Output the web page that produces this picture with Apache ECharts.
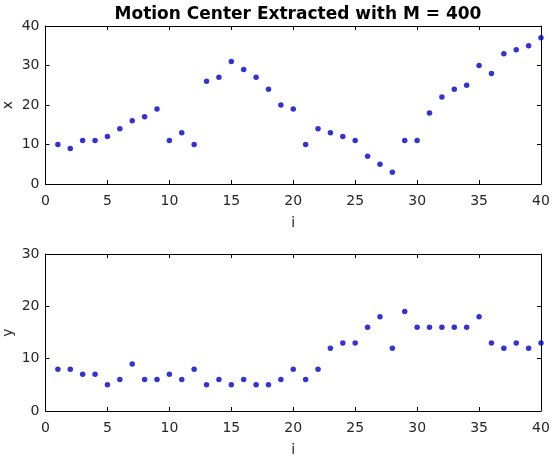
<!DOCTYPE html>
<html>
<head>
<meta charset="utf-8">
<script src="https://cdn.jsdelivr.net/npm/echarts@6/dist/echarts.min.js"></script>
<style>
  html, body { margin: 0; padding: 0; background: #fff; }
  #chart { width: 556px; height: 456px; }
</style>
</head>
<body>
<div id="chart"></div>
<script>
// frame index i = 1..40
var frames = [];
for (var k = 1; k <= 40; k++) frames.push(k);

// motion center coordinates
var xValues = [10, 9, 11, 11, 12, 14, 16, 17, 19, 11,
               13, 10, 26, 27, 31, 29, 27, 24, 20, 19,
               10, 14, 13, 12, 11, 7, 5, 3, 11, 11,
               18, 22, 24, 25, 30, 28, 33, 34, 35, 37];
var yValues = [8, 8, 7, 7, 5, 6, 9, 6, 6, 7,
               6, 8, 5, 6, 5, 6, 5, 5, 6, 8,
               6, 8, 12, 13, 13, 16, 18, 12, 19, 16,
               16, 16, 16, 16, 18, 13, 12, 13, 12, 13];

var titleText = "Motion Center Extracted with M = 400";

var textColor = "#262626";
var dotColor = "#0000c8";
var fontName = "DejaVu Sans";

function pairs(values) {
    var out = [];
    for (var j = 0; j < frames.length; j++) out.push([frames[j], values[j]]);
    return out;
}

// one bottom axis with labels plus a mirrored top axis with ticks only
function xAxisPair(gridIndex) {
    var base = {
        gridIndex: gridIndex,
        type: "value",
        min: 0, max: 40, interval: 5,
        splitLine: { show: false },
        axisLine: { show: true, onZero: false, lineStyle: { color: "#000", width: 1 } },
        axisTick: { show: true, inside: true, length: 4, lineStyle: { color: "#000" } }
    };
    var bottom = Object.assign({}, base, {
        position: "bottom",
        name: "i",
        nameLocation: "middle",
        nameGap: 32,
        nameMoveOverlap: false,
        nameTextStyle: { color: textColor, fontSize: 14, fontFamily: fontName },
        axisLabel: { color: textColor, fontSize: 14, fontFamily: fontName, margin: 10 }
    });
    var top = Object.assign({}, base, {
        position: "top",
        axisLabel: { show: false }
    });
    return [bottom, top];
}

function yAxisPair(gridIndex, name, maxVal) {
    var base = {
        gridIndex: gridIndex,
        type: "value",
        min: 0, max: maxVal, interval: 10,
        splitLine: { show: false },
        axisLine: { show: true, onZero: false, lineStyle: { color: "#000", width: 1 } },
        axisTick: { show: true, inside: true, length: 4, lineStyle: { color: "#000" } }
    };
    var left = Object.assign({}, base, {
        position: "left",
        name: name,
        nameLocation: "middle",
        nameGap: 30,
        nameMoveOverlap: false,
        nameTextStyle: { color: textColor, fontSize: 14, fontFamily: fontName },
        axisLabel: { color: textColor, fontSize: 14, fontFamily: fontName, margin: 6 }
    });
    var right = Object.assign({}, base, {
        position: "right",
        axisLabel: { show: false }
    });
    return [left, right];
}

var chart = echarts.init(document.getElementById("chart"), null, { renderer: "canvas" });

var option = {
    backgroundColor: "#fff",
    animation: false,
    title: {
        text: titleText,
        left: 293,
        top: 1,
        textAlign: "center",
        textStyle: { color: "#000", fontSize: 17, fontWeight: "bold", fontFamily: fontName }
    },
    grid: [
        { left: 45.5, right: 15, top: 26, height: 158, outerBoundsMode: "none", containLabel: false },
        { left: 45.5, right: 15, top: 254, height: 157, outerBoundsMode: "none", containLabel: false }
    ],
    xAxis: xAxisPair(0).concat(xAxisPair(1)),
    yAxis: yAxisPair(0, "x", 40).concat(yAxisPair(1, "y", 30)),
    series: [
        {
            type: "scatter",
            xAxisIndex: 0, yAxisIndex: 0,
            symbol: "circle", symbolSize: 5.5,
            itemStyle: { color: dotColor },
            data: pairs(xValues)
        },
        {
            type: "scatter",
            xAxisIndex: 2, yAxisIndex: 2,
            symbol: "circle", symbolSize: 5.5,
            itemStyle: { color: dotColor },
            data: pairs(yValues)
        }
    ]
};

chart.setOption(option);
</script>
</body>
</html>
